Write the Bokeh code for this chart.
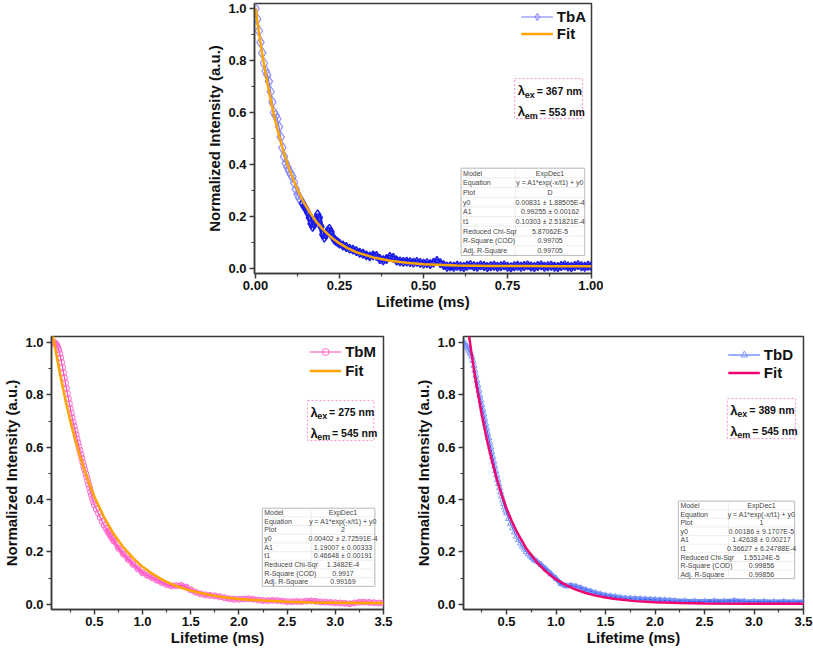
from bokeh.plotting import figure
from bokeh.layouts import column, row
from bokeh.models import FixedTicker, NumeralTickFormatter, Range1d, Legend, LegendItem
from bokeh.core.properties import value
from bokeh.embed import file_html
from bokeh.resources import INLINE

FONT = "Liberation Sans"

# ---------------- data: TbA (top) ----------------
tba_t = [0.000, 0.005, 0.010, 0.015, 0.020, 0.025, 0.030, 0.035, 0.040, 0.045,
         0.050, 0.055, 0.060, 0.065, 0.070, 0.075, 0.080, 0.085, 0.090, 0.095,
         0.100, 0.105, 0.110, 0.115, 0.120, 0.125, 0.130, 0.135, 0.140, 0.145,
         0.150, 0.155, 0.160, 0.165, 0.170, 0.175, 0.180, 0.185, 0.190, 0.195,
         0.200, 0.205, 0.210, 0.215, 0.220, 0.225, 0.230, 0.235, 0.240, 0.245,
         0.250, 0.26, 0.27, 0.28, 0.29, 0.30, 0.31, 0.32, 0.33, 0.34,
         0.35, 0.36, 0.37, 0.38, 0.39, 0.40, 0.41, 0.42, 0.43, 0.44,
         0.45, 0.46, 0.47, 0.48, 0.49, 0.50, 0.51, 0.52, 0.53, 0.54,
         0.55, 0.56, 0.57, 0.58, 0.59, 0.60, 0.61, 0.62, 0.63, 0.64,
         0.65, 0.66, 0.67, 0.68, 0.69, 0.70, 0.71, 0.72, 0.73, 0.74,
         0.75, 0.76, 0.77, 0.78, 0.79, 0.80, 0.81, 0.82, 0.83, 0.84,
         0.85, 0.86, 0.87, 0.88, 0.89, 0.90, 0.91, 0.92, 0.93, 0.94,
         0.95, 0.96, 0.97, 0.98, 0.99, 1.00]
tba_v = [1.000, 0.960, 0.915, 0.870, 0.830, 0.790, 0.760, 0.745, 0.720, 0.680,
         0.640, 0.600, 0.588, 0.575, 0.545, 0.505, 0.465, 0.430, 0.405, 0.390,
         0.375, 0.362, 0.352, 0.330, 0.305, 0.285, 0.272, 0.262, 0.250, 0.238,
         0.228, 0.215, 0.195, 0.172, 0.160, 0.168, 0.190, 0.208, 0.195, 0.160,
         0.130, 0.118, 0.128, 0.145, 0.152, 0.140, 0.120, 0.110, 0.105, 0.100,
         0.095, 0.088, 0.082, 0.076, 0.072, 0.066, 0.060, 0.056, 0.050, 0.046,
         0.050, 0.048, 0.036, 0.031, 0.036, 0.044, 0.040, 0.030, 0.027, 0.025,
         0.026, 0.024, 0.022, 0.025, 0.021, 0.018, 0.020, 0.016, 0.022, 0.028,
         0.020, 0.012, 0.006, 0.008, 0.006, 0.010, 0.007, 0.005, 0.010, 0.012,
         0.008, 0.006, 0.011, 0.009, 0.005, 0.008, 0.010, 0.006, 0.008, 0.011,
         0.006, 0.004, 0.008, 0.010, 0.006, 0.009, 0.011, 0.007, 0.005, 0.009,
         0.011, 0.006, 0.008, 0.010, 0.006, 0.005, 0.009, 0.011, 0.007, 0.005,
         0.009, 0.012, 0.008, 0.006, 0.010, 0.008]
tba_fit_t = [0.00, 0.01, 0.02, 0.03, 0.04, 0.05, 0.06, 0.07, 0.08, 0.09, 0.10,
             0.12, 0.14, 0.16, 0.18, 0.20, 0.225, 0.25, 0.275, 0.30, 0.35,
             0.40, 0.45, 0.50, 0.60, 0.70, 0.80, 0.90, 1.00]
tba_fit_v = [1.001, 0.909, 0.826, 0.750, 0.682, 0.619, 0.563, 0.511, 0.465, 0.423, 0.384,
             0.318, 0.263, 0.218, 0.181, 0.151, 0.120, 0.096, 0.077, 0.062, 0.042,
             0.029, 0.021, 0.016, 0.011, 0.009, 0.009, 0.008, 0.008]

# ---------------- data: TbM (bottom left) ----------------
tbm_t = [0.06, 0.07, 0.08, 0.09, 0.10, 0.11, 0.12, 0.13, 0.14, 0.15,
         0.16, 0.17, 0.18, 0.19, 0.20, 0.21, 0.22, 0.23, 0.24, 0.25,
         0.26, 0.27, 0.28, 0.29, 0.30, 0.31, 0.32, 0.33, 0.34, 0.35,
         0.36, 0.37, 0.38, 0.39, 0.40, 0.41, 0.42, 0.43, 0.44, 0.45,
         0.46, 0.47, 0.48, 0.49, 0.50, 0.52, 0.54, 0.56, 0.58, 0.60,
         0.62, 0.64, 0.66, 0.68, 0.70, 0.75, 0.80, 0.85, 0.90, 0.95,
         1.00, 1.05, 1.10, 1.15, 1.20, 1.25, 1.30, 1.35, 1.40, 1.45,
         1.50, 1.55, 1.60, 1.65, 1.70, 1.75, 1.80, 1.85, 1.90, 1.95,
         2.00, 2.05, 2.10, 2.15, 2.20, 2.25, 2.30, 2.35, 2.40, 2.45,
         2.50, 2.55, 2.60, 2.65, 2.70, 2.75, 2.80, 2.85, 2.90, 2.95,
         3.00, 3.05, 3.10, 3.15, 3.20, 3.25, 3.30, 3.35, 3.40, 3.45, 3.50]
tbm_v = [1.000, 1.000, 1.000, 0.998, 0.995, 0.990, 0.982, 0.972, 0.958, 0.942,
         0.924, 0.905, 0.885, 0.865, 0.845, 0.825, 0.805, 0.785, 0.766, 0.748,
         0.730, 0.713, 0.696, 0.680, 0.664, 0.648, 0.632, 0.617, 0.602, 0.587,
         0.572, 0.557, 0.542, 0.528, 0.514, 0.500, 0.486, 0.472, 0.458, 0.444,
         0.430, 0.417, 0.404, 0.392, 0.380, 0.364, 0.348, 0.332, 0.317, 0.303,
         0.290, 0.277, 0.265, 0.253, 0.242, 0.214, 0.192, 0.172, 0.153, 0.136,
         0.120, 0.110, 0.101, 0.092, 0.083, 0.075, 0.070, 0.071, 0.072, 0.066,
         0.055, 0.046, 0.040, 0.036, 0.034, 0.032, 0.029, 0.025, 0.021, 0.019,
         0.019, 0.020, 0.021, 0.019, 0.016, 0.014, 0.014, 0.015, 0.014, 0.012,
         0.010, 0.010, 0.011, 0.010, 0.012, 0.013, 0.011, 0.009, 0.008, 0.007,
         0.006, 0.005, 0.004, 0.002, 0.005, 0.008, 0.008, 0.007, 0.006, 0.005, 0.005]
tbm_fit_t = [0.055, 0.08, 0.10, 0.15, 0.20, 0.25, 0.30, 0.35, 0.40, 0.45, 0.50,
             0.60, 0.70, 0.80, 0.90, 1.00, 1.10, 1.20, 1.30, 1.40, 1.50, 1.60,
             1.80, 2.00, 2.25, 2.50, 2.75, 3.00, 3.25, 3.50]
tbm_fit_v = [1.062, 1.006, 0.964, 0.867, 0.779, 0.700, 0.630, 0.566, 0.509, 0.458, 0.411,
             0.333, 0.269, 0.218, 0.177, 0.143, 0.117, 0.095, 0.077, 0.063, 0.052, 0.043,
             0.029, 0.020, 0.014, 0.010, 0.007, 0.006, 0.005, 0.005]

# ---------------- data: TbD (bottom right) ----------------
tbd_t = [0.07, 0.08, 0.09, 0.10, 0.11, 0.12, 0.13, 0.14, 0.15, 0.16,
         0.17, 0.18, 0.19, 0.20, 0.21, 0.22, 0.23, 0.24, 0.25, 0.26,
         0.27, 0.28, 0.29, 0.30, 0.31, 0.32, 0.33, 0.34, 0.35, 0.36,
         0.37, 0.38, 0.39, 0.40, 0.41, 0.42, 0.43, 0.44, 0.45, 0.46,
         0.47, 0.48, 0.49, 0.50, 0.52, 0.54, 0.56, 0.58, 0.60, 0.62,
         0.64, 0.66, 0.68, 0.70, 0.72, 0.74, 0.76, 0.78, 0.80, 0.85,
         0.90, 0.95, 1.00, 1.05, 1.10, 1.15, 1.20, 1.25, 1.30, 1.35,
         1.40, 1.45, 1.50, 1.55, 1.60, 1.65, 1.70, 1.75, 1.80, 1.85,
         1.90, 1.95, 2.00, 2.05, 2.10, 2.15, 2.20, 2.30, 2.40, 2.50,
         2.60, 2.70, 2.80, 2.90, 3.00, 3.10, 3.20, 3.30, 3.40, 3.50]
tbd_v = [1.000, 0.995, 0.990, 0.985, 0.978, 0.970, 0.962, 0.955, 0.945, 0.930,
         0.912, 0.893, 0.874, 0.855, 0.836, 0.817, 0.798, 0.780, 0.762, 0.744,
         0.726, 0.708, 0.690, 0.672, 0.654, 0.636, 0.618, 0.600, 0.582, 0.564,
         0.546, 0.528, 0.510, 0.493, 0.476, 0.460, 0.444, 0.428, 0.413, 0.398,
         0.384, 0.371, 0.359, 0.348, 0.327, 0.308, 0.291, 0.275, 0.260, 0.246,
         0.233, 0.221, 0.210, 0.200, 0.192, 0.184, 0.177, 0.170, 0.165, 0.150,
         0.133, 0.115, 0.098, 0.078, 0.070, 0.072, 0.068, 0.062, 0.055, 0.049,
         0.043, 0.038, 0.034, 0.031, 0.028, 0.025, 0.023, 0.022, 0.021, 0.020,
         0.019, 0.018, 0.017, 0.016, 0.015, 0.014, 0.013, 0.012, 0.011, 0.011,
         0.012, 0.011, 0.013, 0.011, 0.010, 0.010, 0.009, 0.010, 0.009, 0.009]
tbd_fit_t = [0.10, 0.12, 0.14, 0.16, 0.18, 0.20, 0.25, 0.30, 0.35, 0.40, 0.45,
             0.50, 0.55, 0.60, 0.70, 0.80, 0.90, 1.00, 1.10, 1.20, 1.30, 1.40,
             1.50, 1.60, 1.80, 2.00, 2.25, 2.50, 3.00, 3.50]
tbd_fit_v = [1.087, 1.030, 0.975, 0.923, 0.874, 0.828, 0.723, 0.631, 0.551, 0.480, 0.419,
             0.366, 0.320, 0.279, 0.213, 0.163, 0.124, 0.095, 0.073, 0.056, 0.043, 0.033,
             0.026, 0.020, 0.012, 0.008, 0.005, 0.003, 0.002, 0.002]

# ---------------- ticks ----------------
top_xticks = [0.0, 0.25, 0.5, 0.75, 1.0]
top_xminor = [0.125, 0.375, 0.625, 0.875]
bot_xticks = [0.5, 1.0, 1.5, 2.0, 2.5, 3.0, 3.5]
bot_xminor = [0.25, 0.75, 1.25, 1.75, 2.25, 2.75, 3.25]
yticks = [0.0, 0.2, 0.4, 0.6, 0.8, 1.0]
yminor = [0.1, 0.3, 0.5, 0.7, 0.9]

# ---------------- fit tables ----------------
table_keys = ["Model", "Equation", "Plot", "y0", "A1", "t1",
              "Reduced Chi-Sqr", "R-Square (COD)", "Adj. R-Square"]
tba_table = ["ExpDec1", "y = A1*exp(-x/t1) + y0", "D", "0.00831 \u00b1 1.88505E-4",
             "0.99255 \u00b1 0.00162", "0.10303 \u00b1 2.51821E-4", "5.87062E-5",
             "0.99705", "0.99705"]
tbm_table = ["ExpDec1", "y = A1*exp(-x/t1) + y0", "2", "0.00402 \u00b1 2.72591E-4",
             "1.19007 \u00b1 0.00333", "0.46648 \u00b1 0.00191", "1.3482E-4",
             "0.9917", "0.99169"]
tbd_table = ["ExpDec1", "y = A1*exp(-x/t1) + y0", "1", "0.00186 \u00b1 9.1707E-5",
             "1.42638 \u00b1 0.00217", "0.36627 \u00b1 6.24788E-4", "1.55124E-5",
             "0.99856", "0.99856"]

AX = "#3a3a3a"


def make_fig(width, height, mbl, mbr, mbt, mbb, xr, yr, xticks, xminor, xfmt):
    p = figure(width=width, height=height, x_range=Range1d(*xr), y_range=Range1d(*yr),
               output_backend="svg", toolbar_location=None,
               min_border_left=mbl, min_border_right=mbr,
               min_border_top=mbt, min_border_bottom=mbb)
    p.xgrid.visible = False
    p.ygrid.visible = False
    p.outline_line_color = AX
    p.outline_line_width = 1.5
    p.outline_line_alpha = 1
    for ax in (p.xaxis[0], p.yaxis[0]):
        ax.axis_line_color = AX
        ax.axis_line_width = 1.5
        ax.major_tick_line_color = AX
        ax.major_tick_line_width = 1.5
        ax.minor_tick_line_color = AX
        ax.minor_tick_line_width = 1.2
        ax.major_tick_out = 5
        ax.major_tick_in = 0
        ax.minor_tick_out = 3
        ax.minor_tick_in = 0
        ax.major_label_text_font = FONT
        ax.major_label_text_font_style = "bold"
        ax.major_label_text_font_size = "13px"
        ax.major_label_text_color = "#111111"
        ax.axis_label_text_font = FONT
        ax.axis_label_text_font_style = "bold"
        ax.axis_label_text_font_size = "15px"
        ax.axis_label_text_color = "#111111"
    p.xaxis.ticker = FixedTicker(ticks=xticks, minor_ticks=xminor)
    p.yaxis.ticker = FixedTicker(ticks=yticks, minor_ticks=yminor)
    p.xaxis.formatter = NumeralTickFormatter(format=xfmt)
    p.yaxis.formatter = NumeralTickFormatter(format="0.0")
    p.xaxis.major_label_standoff = 2
    p.yaxis.major_label_standoff = 3
    p.xaxis.axis_label_standoff = 0
    p.yaxis.axis_label_standoff = 2
    p.xaxis.axis_label = "Lifetime (ms)"
    p.yaxis.axis_label = "Normalized Intensity (a.u.)"
    return p


def geom(xr, yr, fw, fh):
    return dict(xr=xr, yr=yr, fw=fw, fh=fh)


def P(g, fx, fy, dx=0.0, dy=0.0):
    x0, x1 = g["xr"]
    y0, y1 = g["yr"]
    x = x0 + (fx + dx / g["fw"]) * (x1 - x0)
    y = y1 - (fy + dy / g["fh"]) * (y1 - y0)
    return x, y


def add_legend(p, items, margin, spacing):
    leg = Legend(items=items, location="top_right")
    leg.border_line_alpha = 0
    leg.background_fill_alpha = 0
    leg.label_text_font = FONT
    leg.label_text_font_style = "bold"
    leg.label_text_font_size = "15px"
    leg.label_text_color = "#111111"
    leg.glyph_width = 32
    leg.glyph_height = 17
    leg.label_height = 17
    leg.spacing = spacing
    leg.padding = 0
    leg.margin = margin
    leg.label_standoff = 4
    p.add_layout(leg)


def draw_lambda(p, g, fx0, fx1, fy0, fy1, ex, em):
    xa, ya = P(g, fx0, fy0)
    xb, yb = P(g, fx1, fy1)
    p.quad(left=xa, right=xb, top=ya, bottom=yb, fill_alpha=0,
           line_color="#ff8fd0", line_dash="2 2", line_width=1)
    for i, (sub, val, vdx) in enumerate((("ex", ex, 22), ("em", em, 25))):
        lx, ly = P(g, fx0, fy0, 3, 12 + 21 * i)
        sx, sy = P(g, fx0, fy0, 10, 16 + 21 * i)
        vx, vy = P(g, fx0, fy0, vdx, 12 + 21 * i)
        p.text(x=[lx], y=[ly], text=["\u03bb"], text_font=value(FONT), text_font_style="bold",
               text_font_size="13px", text_baseline="middle", text_align="left", text_color="#111111")
        p.text(x=[sx], y=[sy], text=[sub], text_font=value(FONT), text_font_style="bold",
               text_font_size="9px", text_baseline="middle", text_align="left", text_color="#111111")
        p.text(x=[vx], y=[vy], text=["= " + val], text_font=value(FONT), text_font_style="bold",
               text_font_size="10.5px", text_baseline="middle", text_align="left", text_color="#111111")


def draw_table(p, g, fx0, fx1, fy0, fy1, fdiv, keys, vals):
    xa, ya = P(g, fx0, fy0)
    xb, yb = P(g, fx1, fy1)
    xd, _ = P(g, fdiv, fy0)
    p.quad(left=xa, right=xb, top=ya, bottom=yb, fill_color="white",
           line_color="#b8b8b8", line_width=1)
    n = len(keys)
    h = (ya - yb) / n
    seps = [ya - h * (i + 1) for i in range(n - 1)]
    p.segment(x0=[xa] * len(seps), y0=seps, x1=[xb] * len(seps), y1=seps,
              line_color="#d4d4d4", line_width=0.8, line_dash="1 1")
    p.segment(x0=[xd], y0=[ya], x1=[xd], y1=[yb], line_color="#d4d4d4", line_width=0.8, line_dash="1 1")
    cy = [ya - h * (i + 0.5) for i in range(n)]
    kx, _ = P(g, fx0, fy0, 2, 0)
    p.text(x=[kx] * n, y=cy, text=keys, text_font=value(FONT), text_font_size="7px",
           text_baseline="middle", text_align="left", text_color="#444444")
    p.text(x=[(xd + xb) / 2] * n, y=cy, text=vals, text_font=value(FONT), text_font_size="7px",
           text_baseline="middle", text_align="center", text_color="#444444")


# ================= top panel: TbA =================
g1 = geom((-0.003, 1.0), (-0.02, 1.02), 337, 270)
p1 = make_fig(603, 315, 254, 12, 3, 42, g1["xr"], g1["yr"], top_xticks, top_xminor, "0.00")
draw_table(p1, g1, 0.613, 0.980, 0.610, 0.933, 0.774, table_keys, tba_table)
p1.line(tba_t[28:], tba_v[28:], line_color="#1414ee", line_width=5)
a_line = p1.line(tba_t, tba_v, line_color="#7777ff", line_width=1.2)
a_pts = p1.scatter(tba_t[:29], tba_v[:29], marker="diamond", size=11, line_color="#8484ff",
                   line_width=1.2, fill_color="white", fill_alpha=0.0, line_alpha=0.9)
p1.scatter(tba_t[28:], tba_v[28:], marker="diamond", size=9, line_color="#1c1ce8",
           line_width=1.5, fill_color="white", fill_alpha=0.0)
a_fit = p1.line(tba_fit_t, tba_fit_v, line_color="#ffa500", line_width=2.5)
draw_lambda(p1, g1, 0.772, 0.973, 0.278, 0.426, "367 nm", "553 nm")
add_legend(p1, [LegendItem(label="TbA", renderers=[a_line, a_pts]),
                LegendItem(label="Fit", renderers=[a_fit])], 5, 0)

# ================= bottom left: TbM =================
g2 = geom((0.055, 3.5), (-0.02, 1.023), 338, 273)
p2 = make_fig(395, 334, 45, 12, 21, 40, g2["xr"], g2["yr"], bot_xticks, bot_xminor, "0.0")
draw_table(p2, g2, 0.635, 0.974, 0.629, 0.915, 0.782, table_keys, tbm_table)
p2.line(tbm_t[50:], tbm_v[50:], line_color="#ff8ad8", line_width=5)
m_line = p2.line(tbm_t, tbm_v, line_color="#ff44bb", line_width=1.2)
m_pts = p2.scatter(tbm_t, tbm_v, marker="circle", size=6, line_color="#ff66cc",
                   line_width=1, fill_color="white", fill_alpha=0.0)
m_fit = p2.line(tbm_fit_t, tbm_fit_v, line_color="#ffa500", line_width=2.5)
draw_lambda(p2, g2, 0.771, 0.971, 0.234, 0.381, "275 nm", "545 nm")
add_legend(p2, [LegendItem(label="TbM", renderers=[m_line, m_pts]),
                LegendItem(label="Fit", renderers=[m_fit])], 7, 2)

# ================= bottom right: TbD =================
g3 = geom((0.065, 3.5), (-0.02, 1.023), 340, 273)
p3 = make_fig(418, 334, 68, 10, 21, 40, g3["xr"], g3["yr"], bot_xticks, bot_xminor, "0.0")
draw_table(p3, g3, 0.632, 0.974, 0.603, 0.887, 0.779, table_keys, tbd_table)
p3.line(tbd_t[55:], tbd_v[55:], line_color="#6f8cf0", line_width=5)
d_line = p3.line(tbd_t, tbd_v, line_color="#3a5cff", line_width=1.2)
d_pts = p3.scatter(tbd_t, tbd_v, marker="triangle", size=6, line_color="#7b98ff",
                   line_width=1, fill_color="white", fill_alpha=0.0)
d_fit = p3.line(tbd_fit_t, tbd_fit_v, line_color="#f0056e", line_width=2.5)
draw_lambda(p3, g3, 0.776, 0.976, 0.227, 0.374, "389 nm", "545 nm")
add_legend(p3, [LegendItem(label="TbD", renderers=[d_line, d_pts]),
                LegendItem(label="Fit", renderers=[d_fit])], 10, 1)

layout = column(p1, row(p2, p3))
open("out.html", "w").write(file_html(layout, INLINE))
